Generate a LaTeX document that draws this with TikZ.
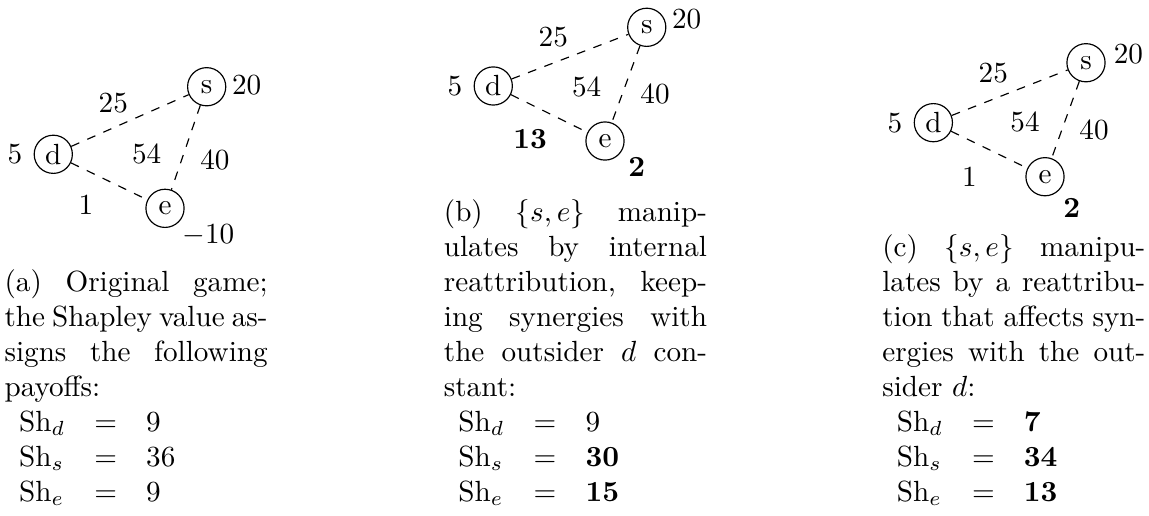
\documentclass[tikz,border=0pt]{standalone}
\usepackage{tikz}

\begin{document}
\begin{tikzpicture}[player/.style={circle,draw,minimum size=0.46cm,inner sep=1pt},
  synergy/.style={dashed},
  subcap/.style={text width=3.17cm,align=justify,inner sep=0pt,anchor=south west}]
\useasboundingbox (0,0) rectangle (13.843,6.205);

\node[player] (a-s) at (2.490,5.160) {s};
\node[player] (a-d) at (0.642,4.346) {d};
\node[player] (a-e) at (1.988,3.695) {e};
\node (a-vs) at (2.972,5.181) {20};
\node (a-vd) at (0.181,4.346) {5};
\node (a-ve) at (2.510,3.373) {$-10$};
\node (a-ds) at (1.365,4.967) {25};
\node (a-dse) at (1.767,4.346) {54};
\node (a-se) at (2.590,4.277) {40};
\node (a-de) at (1.036,3.735) {1};
\draw[synergy] (a-d) -- (a-s);
\draw[synergy] (a-d) -- (a-e);
\draw[synergy] (a-s) -- (a-e);

\node[player] (b-s) at (7.792,5.876) {s};
\node[player] (b-d) at (5.943,5.169) {d};
\node[player] (b-e) at (7.289,4.506) {e};
\node (b-vs) at (8.273,5.972) {20};
\node (b-vd) at (5.482,5.169) {5};
\node (b-ve) at (7.671,4.196) {\textbf{2}};
\node (b-ds) at (6.666,5.755) {25};
\node (b-dse) at (7.069,5.160) {54};
\node (b-se) at (7.892,5.069) {40};
\node (b-de) at (6.386,4.527) {\textbf{13}};
\draw[synergy] (b-d) -- (b-s);
\draw[synergy] (b-d) -- (b-e);
\draw[synergy] (b-s) -- (b-e);

\node[player] (c-s) at (13.084,5.449) {s};
\node[player] (c-d) at (11.245,4.727) {d};
\node[player] (c-e) at (12.590,4.076) {e};
\node (c-vs) at (13.594,5.551) {20};
\node (c-vd) at (10.783,4.727) {5};
\node (c-ve) at (12.912,3.695) {\textbf{2}};
\node (c-ds) at (11.967,5.322) {25};
\node (c-dse) at (12.349,4.739) {54};
\node (c-se) at (13.181,4.639) {40};
\node (c-de) at (11.678,4.076) {1};
\draw[synergy] (c-d) -- (c-s);
\draw[synergy] (c-d) -- (c-e);
\draw[synergy] (c-s) -- (c-e);

\node[subcap] (a-cap) at (0.048,0.03) {(a) Original game;\linebreak the Shapley value as-\linebreak signs the following\linebreak payoffs:\par\noindent
$\begin{array}[t]{lcl}
\mathrm{Sh}_d & = & 9\\
\mathrm{Sh}_s & = & 36\\
\mathrm{Sh}_e & = & 9
\end{array}$};
\node[subcap] (b-cap) at (5.341,0.03) {(b) $\{s,e\}$ manip-\linebreak ulates by internal\linebreak reattribution, keep-\linebreak ing synergies with\linebreak the outsider $d$ con-\linebreak stant:\par\noindent
$\begin{array}[t]{lcl}
\mathrm{Sh}_d & = & 9\\
\mathrm{Sh}_s & = & \mathbf{30}\\
\mathrm{Sh}_e & = & \mathbf{15}
\end{array}$};
\node[subcap] (c-cap) at (10.623,0.03) {(c) $\{s,e\}$ manipu-\linebreak lates by a reattribu-\linebreak tion that affects syn-\linebreak ergies with the out-\linebreak sider $d$:\par\noindent
$\begin{array}[t]{lcl}
\mathrm{Sh}_d & = & \mathbf{7}\\
\mathrm{Sh}_s & = & \mathbf{34}\\
\mathrm{Sh}_e & = & \mathbf{13}
\end{array}$};

\end{tikzpicture}
\end{document}
